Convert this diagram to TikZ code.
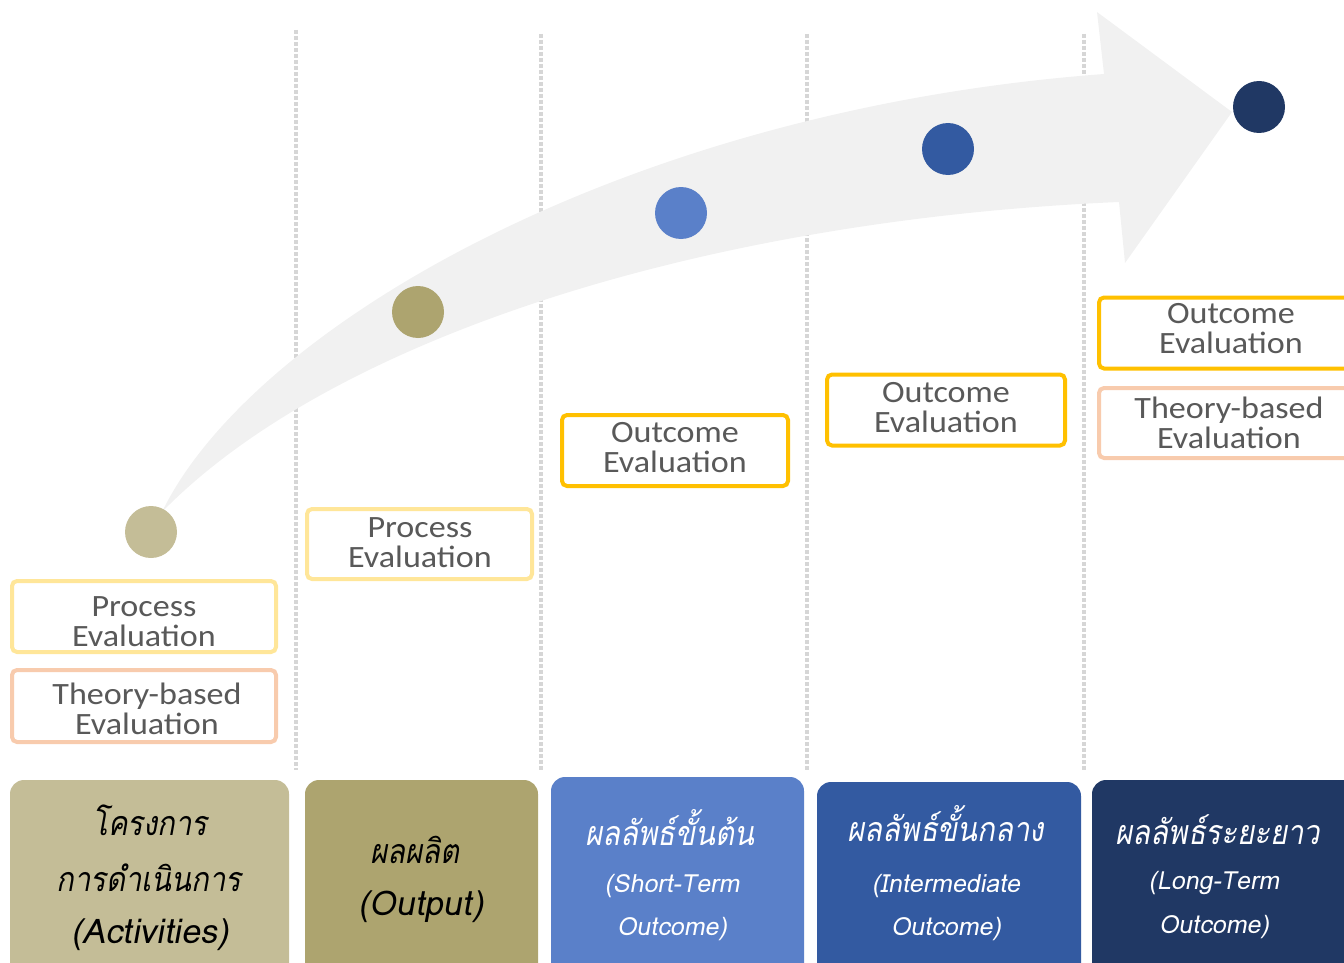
\documentclass[tikz,border=0pt]{standalone}
\usepackage{fontspec}
\setmainfont{Carlito}[FakeStretch=1.1]
\newfontfamily\thaifont[Script=Thai,FakeSlant=0.18,FakeStretch=0.86]{Loma}
\newfontfamily\thaien[Script=Thai,FakeSlant=0.18]{Loma}
\definecolor{arrowgray}{HTML}{F1F1F1}
\definecolor{sepgray}{HTML}{D6D6D6}
\definecolor{labelgray}{HTML}{595959}
\definecolor{yellowL}{HTML}{FFE699}
\definecolor{peach}{HTML}{F8CBAD}
\definecolor{gold}{HTML}{FFC000}
\definecolor{cA}{HTML}{C4BD97}
\definecolor{cB}{HTML}{ADA46F}
\definecolor{cC}{HTML}{5A80C9}
\definecolor{cD}{HTML}{335AA1}
\definecolor{cE}{HTML}{203864}
\begin{document}
\begin{tikzpicture}[x=0.5pt,y=-0.5pt,
  evalbox/.style={draw, line width=2pt, rounded corners=2.5pt, fill=white, inner sep=0pt},
  evaltext/.style={text=labelgray, align=center, inner sep=0pt, font=\fontsize{15.5}{15}\selectfont},
  stagebox/.style={rounded corners=7pt, inner sep=0pt},
  dot/.style={circle, minimum size=26pt, inner sep=0pt},
  sepline/.style={draw=sepgray, line width=2pt, dash pattern=on 2pt off 1pt},
  thaiA/.style={anchor=base, inner sep=0pt, font=\thaifont\fontsize{17}{20}\selectfont},
  engA/.style={anchor=base, inner sep=0pt, font=\thaien\fontsize{17}{19}\selectfont},
  engB/.style={anchor=base, inner sep=0pt, font=\thaien\fontsize{12.5}{14}\selectfont},
]
\useasboundingbox (0,0) rectangle (1344,963);
% separators
\draw[sepline] (296,30) -- (296,770);
\draw[sepline] (541,34) -- (541,770);
\draw[sepline] (807,34) -- (807,770);
\draw[sepline] (1084,34) -- (1084,770);
% big curved arrow
\fill[arrowgray] (162,512) .. controls (250,330) and (620,110) .. (1104,74)
  -- (1097,12) -- (1232,112) -- (1125,263) -- (1119,202)
  .. controls (700,220) and (330,340) .. (162,512) -- cycle;
% dots
\node[dot, fill=cA] (d1) at (151,532) {};
\node[dot, fill=cB] (d2) at (418,312) {};
\node[dot, fill=cC] (d3) at (681,213) {};
\node[dot, fill=cD] (d4) at (948,149) {};
\node[dot, fill=cE] (d5) at (1259,107) {};
% evaluation boxes
\node[evalbox, draw=yellowL, minimum width=132pt, minimum height=35.5pt] (eA) at (144,616.5) {};
\node[evalbox, draw=peach, minimum width=132pt, minimum height=36pt] (eB) at (144,706) {};
\node[evalbox, draw=yellowL, minimum width=112.5pt, minimum height=35pt] (eC) at (419.5,544) {};
\node[evalbox, draw=gold, minimum width=113pt, minimum height=35.5pt] (eD) at (675,450.5) {};
\node[evalbox, draw=gold, minimum width=119pt, minimum height=35.5pt] (eE) at (946,410) {};
\node[evalbox, draw=gold, minimum width=132pt, minimum height=35.5pt] (eF) at (1231,333) {};
\node[evalbox, draw=peach, minimum width=132pt, minimum height=35pt] (eG) at (1231,423) {};
\node[evaltext] (lA) at (144,622) {Process\\Evaluation};
\node[evaltext] (lB) at (147,709) {Theory-based\\Evaluation};
\node[evaltext] (lC) at (420,543) {Process\\Evaluation};
\node[evaltext] (lD) at (675,447.5) {Outcome\\Evaluation};
\node[evaltext] (lE) at (946,407.5) {Outcome\\Evaluation};
\node[evaltext] (lF) at (1231,329) {Outcome\\Evaluation};
\node[evaltext] (lG) at (1229,422.5) {Theory-based\\Evaluation};
% stage boxes
\node[stagebox, fill=cA, minimum width=139.5pt, minimum height=100pt] (b1) at (149.5,880) {};
\node[stagebox, fill=cB, minimum width=116.5pt, minimum height=100pt] (b2) at (421.5,880) {};
\node[stagebox, fill=cC, minimum width=126.5pt, minimum height=101.5pt] (b3) at (677.5,878.5) {};
\node[stagebox, fill=cD, minimum width=132pt, minimum height=99pt] (b4) at (949,881) {};
\node[stagebox, fill=cE, minimum width=134pt, minimum height=100pt] (b5) at (1226,880) {};
% stage texts
\node[thaiA, text=black] (t1a) at (150,835) {โครงการ};
\node[thaiA, text=black] (t1b) at (149,891) {การดำเนินการ};
\node[engA, text=black] (t1c) at (150,943) {(Activities)};
\node[thaiA, text=black] (t2a) at (415,863) {ผลผลิต};
\node[engA, text=black] (t2b) at (421,915) {(Output)};
\node[thaiA, text=white] (t3a) at (670,845) {ผลลัพธ์ขั้นต้น};
\node[engB, text=white] (t3b) at (672,892) {(Short-Term};
\node[engB, text=white] (t3c) at (672,935) {Outcome)};
\node[thaiA, text=white] (t4a) at (946,841) {ผลลัพธ์ขั้นกลาง};
\node[engB, text=white] (t4b) at (946,892) {(Intermediate};
\node[engB, text=white] (t4c) at (946,935) {Outcome)};
\node[thaiA, text=white] (t5a) at (1218,844) {ผลลัพธ์ระยะยาว};
\node[engB, text=white] (t5b) at (1214,889) {(Long-Term};
\node[engB, text=white] (t5c) at (1214,933) {Outcome)};
\end{tikzpicture}
\end{document}
